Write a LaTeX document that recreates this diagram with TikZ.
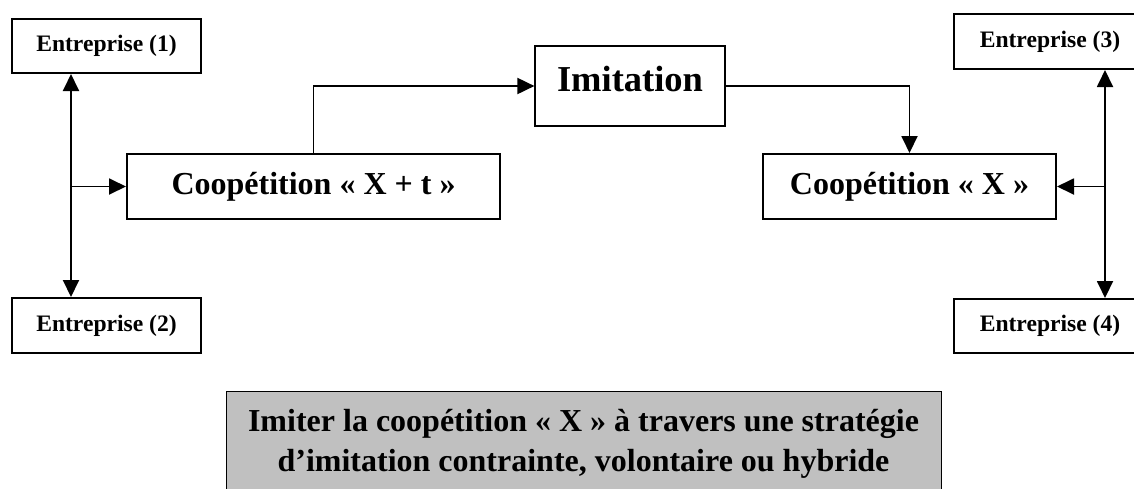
\documentclass[tikz,border=0pt]{standalone}
\usepackage{fontspec}
\setmainfont{Liberation Serif}
\usetikzlibrary{arrows.meta}
\definecolor{boxgray}{HTML}{C0C0C0}
\tikzset{
  x=0.5pt, y=-0.5pt,
  entbox/.style={draw, line width=1pt, inner sep=0pt, minimum width=94.5pt, minimum height=27pt,
    font=\fontsize{11.8}{14}\selectfont\bfseries},
  coopbox/.style={draw, line width=1pt, inner sep=0pt, minimum height=32.5pt,
    font=\fontsize{16}{19}\selectfont\bfseries},
  imitbox/.style={draw, line width=0.6pt, inner sep=0pt, minimum width=95pt, minimum height=40pt,
    text depth=7.5pt, font=\fontsize{18.25}{22}\selectfont\bfseries},
  graybox/.style={draw, line width=0.5pt, fill=boxgray, inner sep=0pt, minimum width=357.5pt, minimum height=64.5pt},
  graytext/.style={inner sep=0pt, align=center, font=\fontsize{16}{20}\selectfont\bfseries},
  conn/.style={line width=0.95pt, -{Triangle[length=8.5pt,width=8pt]}},
  dconn/.style={line width=0.95pt, {Triangle[length=8.5pt,width=8pt]}-{Triangle[length=8.5pt,width=8pt]}},
}
\begin{document}
\begin{tikzpicture}
\useasboundingbox (0,0) rectangle (1134,488);
\clip (0,0) rectangle (1134,488);
\fill[white] (0,0) rectangle (1134,488);

\node[entbox] (e1) at (106.5,46) {Entreprise (1)};
\node[entbox, minimum height=27.5pt] (e2) at (106.5,325.5) {Entreprise (2)};
\node[entbox, minimum width=96pt, minimum height=27.5pt] (e3) at (1050,41.5) {Entreprise (3)};
\node[entbox, minimum width=96pt] (e4) at (1050,326) {Entreprise (4)};

\node[coopbox, minimum width=186.5pt] (c1) at (313.5,186.5) {Coopétition « X + t »};
\node[coopbox, minimum width=146.5pt] (c2) at (909.5,186.5) {Coopétition « X »};
\node[imitbox] (im) at (630,86) {Imitation};

\node[graybox] (gb) at (583.5,455.5) {};
\node[graytext] (gt) at (583.5,444) {Imiter la coopétition « X » à travers une stratégie\\d’imitation contrainte, volontaire ou hybride};

\coordinate (lx) at (71,186.5);
\coordinate (rx) at (1105,186.5);

\draw[dconn] (e1.south -| lx) -- (e2.north -| lx);
\draw[conn] (lx) -- (c1.west);
\draw[dconn] (e3.south -| rx) -- (e4.north -| rx);
\draw[conn] (rx) -- (c2.east);
\draw[conn] (c1.north) |- (im.west);
\draw[conn] (im.east) -| (c2.north);
\end{tikzpicture}
\end{document}
